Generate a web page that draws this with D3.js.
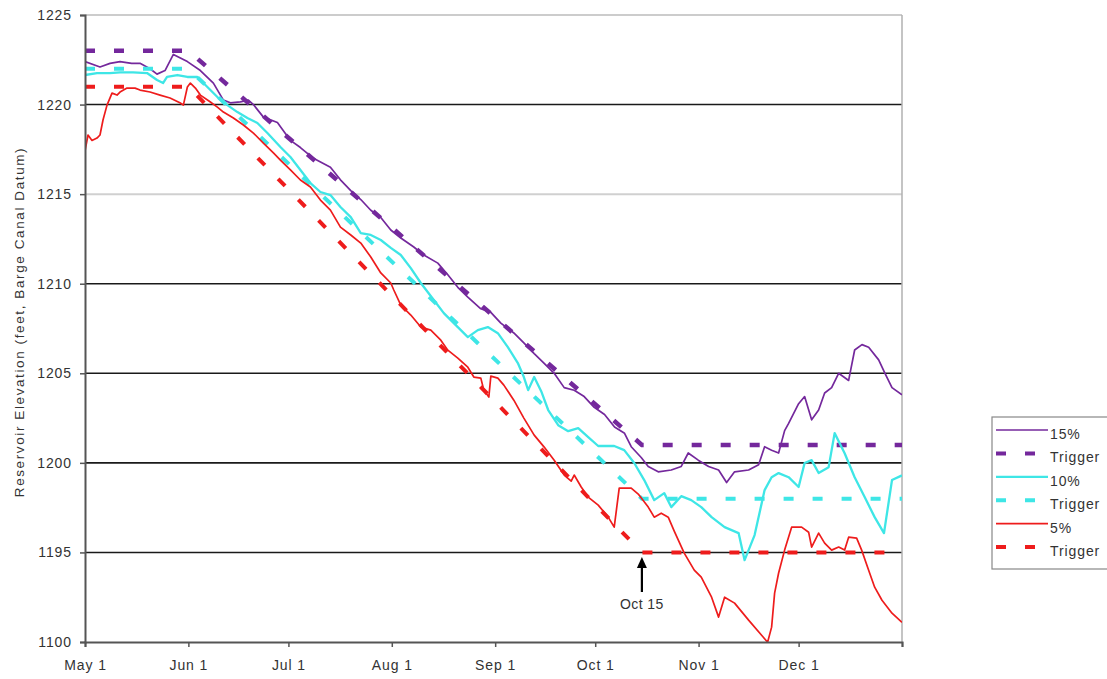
<!DOCTYPE html>
<html><head><meta charset="utf-8">
<script src="https://cdn.jsdelivr.net/npm/d3@7"></script>
<style>
body{margin:0;background:#fff;}
svg text{font-family:"Liberation Sans",Arial,sans-serif;fill:#333;}
</style></head>
<body><svg id="c" width="1107" height="679"></svg>
<script>
// ---- data (day offsets from May 1) ----
const monthDays = [0,31,61,92,123,153,184,214,245];
const monthLabels = ["May 1","Jun 1","Jul 1","Aug 1","Sep 1","Oct 1","Nov 1","Dec 1",""];
const yTicks = [1190,1195,1200,1205,1210,1215,1220,1225];
const yTickLabels = ["1100","1195","1200","1205","1210","1215","1220","1225"];
const blackGrid = [1220,1210,1205,1200,1195];
const grayGrid = [1215,1225];

const p15Days = [0,4.5,7.5,10.5,14,16.5,19.5,21.6,24,26.5,28.6,30.7,34.6,38.5,41.5,43.6,46.6,49,50.5,53.5,57.7,61.6,64.6,68.5,73.6,76.6,79.7,82.7,85.7,88.7,91.7,94.7,98.6,101.6,105.8,108.8,111.8,114.8,118.7,121.7,124.7,128.6,131.6,134.7,137.7,140.7,143.7,146.7,149.7,152.7,155.8,158.8,161.8,163.8,166.8,168.9,171.9,175.8,178.8,180.9,183.9,187,190,192.4,194.8,199,202,203.8,205.9,208,209.8,211,214,215.8,217.9,220,221.8,223.9,226,229,230.8,233,235,238,239.9,242,245];
const p15Vals = [1222.4,1222.1,1222.3,1222.4,1222.3,1222.3,1222.0,1221.7,1221.9,1222.8,1222.6,1222.4,1221.9,1221.2,1220.25,1220.1,1220.15,1220.25,1220.0,1219.3,1219.0,1218.0,1217.6,1217.0,1216.5,1215.8,1215.2,1214.7,1214.1,1213.7,1213.0,1212.55,1212.05,1211.6,1211.15,1210.5,1209.8,1209.25,1208.6,1208.4,1207.8,1207.25,1206.7,1206.1,1205.55,1205.0,1204.2,1204.05,1203.7,1203.1,1202.7,1202.0,1201.65,1200.9,1200.3,1199.8,1199.5,1199.6,1199.8,1200.55,1200.15,1199.8,1199.6,1198.9,1199.5,1199.6,1199.9,1200.9,1200.7,1200.55,1201.8,1202.2,1203.3,1203.7,1202.4,1202.95,1203.9,1204.2,1205.0,1204.6,1206.3,1206.6,1206.45,1205.75,1205.0,1204.2,1203.8];

const p10Days = [0,3.6,7.5,10.5,14.4,18.6,21.6,23.4,24.6,27.7,30.7,33.7,36.7,39.7,42.7,45.7,48.7,51.7,54.7,58.6,61.6,64.6,67.6,70.6,73.6,76.6,79.7,82.7,85.7,88.7,91.7,94.7,97.7,100.7,104.6,107.6,111.8,114.8,117.8,120.8,123.8,126.8,129.8,131.6,132.9,134.7,136.8,138.9,141.9,144.9,147.9,150.9,153.9,158.7,161.7,164.7,167.7,170.7,173.7,175.8,178.8,181.8,184.8,187.9,191.8,196,197.8,200.8,203.8,205.9,208,211,214,215.8,217.9,220,223,224.8,227.8,230.8,233.8,236.8,239.6,242,245];
const p10Vals = [1221.65,1221.76,1221.76,1221.8,1221.8,1221.76,1221.37,1221.2,1221.54,1221.65,1221.54,1221.54,1220.98,1220.42,1219.97,1219.58,1219.25,1218.97,1218.41,1217.63,1217.07,1216.35,1215.62,1215.12,1214.95,1214.28,1213.72,1212.83,1212.72,1212.44,1212.0,1211.6,1210.87,1210.04,1209.09,1208.36,1207.58,1207.02,1207.41,1207.58,1207.24,1206.46,1205.57,1204.79,1204.06,1204.79,1204.0,1202.95,1202.1,1201.77,1201.94,1201.44,1200.94,1200.94,1200.71,1199.99,1199.04,1197.92,1198.31,1197.53,1198.14,1197.92,1197.53,1196.97,1196.41,1196.08,1194.57,1195.97,1198.48,1199.2,1199.43,1199.2,1198.65,1199.99,1200.15,1199.43,1199.76,1201.66,1200.54,1199.2,1198.09,1196.97,1196.08,1199.04,1199.3];

const p5Days = [0,0.9,2.1,3.6,4.5,5.4,6.6,8.1,9.6,10.5,12.6,15,16.5,19.5,22.5,25.5,28.6,29.5,30.7,31.6,33.1,34.6,37.6,39.7,41.5,44.5,47.5,50.5,53.5,56.5,58.6,61.6,64.6,67.6,70.6,73.6,76.6,79.7,82.7,85.7,88.7,91.7,92.6,94.7,97.7,100.7,103.7,106.7,108.8,111.8,114.8,116.6,118.7,119.6,121.1,121.7,123.8,125.6,128.6,131.6,134.7,137.7,140.7,143.7,145.8,146.7,148.8,150.9,153.9,156.9,158.7,160.2,163.8,165.9,168.9,170.7,172.8,174.9,176.7,179.7,182.7,184.8,187.9,190,191.8,194.8,199,202.9,204.7,205.9,206.8,208,209.8,211.9,214.9,217,217.9,220,221.8,223.9,226,227.8,229,231.4,232.9,235,236.8,239,242,245];
const p5Vals = [1217.4,1218.3,1218.0,1218.13,1218.3,1219.14,1219.97,1220.64,1220.53,1220.7,1220.92,1220.92,1220.81,1220.7,1220.53,1220.37,1220.09,1219.97,1220.98,1221.2,1220.92,1220.53,1220.14,1219.86,1219.58,1219.25,1218.86,1218.41,1217.85,1217.3,1216.9,1216.35,1215.79,1215.4,1214.67,1214.11,1213.16,1212.72,1212.27,1211.49,1210.6,1210.04,1209.65,1208.81,1208.25,1207.58,1207.41,1206.85,1206.29,1205.85,1205.34,1204.79,1204.73,1204.06,1203.67,1204.84,1204.73,1204.34,1203.5,1202.5,1201.55,1200.88,1200.15,1199.32,1198.98,1199.32,1198.65,1198.09,1197.64,1196.97,1196.41,1198.59,1198.59,1198.26,1197.53,1196.97,1197.19,1196.97,1196.19,1194.96,1194.01,1193.62,1192.5,1191.39,1192.5,1192.17,1191.22,1190.38,1189.99,1190.83,1192.73,1193.85,1195.13,1196.41,1196.41,1196.13,1195.3,1196.08,1195.52,1195.13,1195.3,1195.13,1195.85,1195.8,1195.13,1194.01,1193.06,1192.33,1191.61,1191.1];

const t15Days = [0,31,167,245], t15Vals = [1223,1223,1201,1201];
const t10Days = [0,31,167,245], t10Vals = [1222,1222,1198,1198];
const t5Days  = [0,31,167,245], t5Vals  = [1221,1221,1195,1195];

const seriesNames = ["15%","Trigger","10%","Trigger","5%","Trigger"];
const annotDay = 167, annotLabel = "Oct 15";

// ---- drawing ----
const svg = d3.select("#c");
const L=85,R=902,T=15,B=642;
const x = d3.scaleLinear().domain([0,245]).range([L,R]);
const y = d3.scaleLinear().domain([1190,1225]).range([B,T]);

const purple="#74289c", cyan="#3ee6e6", red="#ee1c1c";
const styles = [
  {c:purple,w:1.7,dash:null},
  {c:purple,w:4.5,dash:"10,19"},
  {c:cyan,w:2.3,dash:null},
  {c:cyan,w:4,dash:"10,19"},
  {c:red,w:1.7,dash:null},
  {c:red,w:4,dash:"10,19"}
];
const series = [
  [p15Days,p15Vals],[t15Days,t15Vals],[p10Days,p10Vals],[t10Days,t10Vals],[p5Days,p5Vals],[t5Days,t5Vals]
];

svg.append("defs").append("clipPath").attr("id","clip")
  .append("rect").attr("x",L).attr("y",T-3).attr("width",R-L).attr("height",B-T+3);

// gridlines
svg.append("g").selectAll("line").data(grayGrid).join("line")
  .attr("x1",L).attr("x2",R).attr("y1",d=>y(d)).attr("y2",d=>y(d))
  .attr("stroke",d=>d===1225?"#999":"#d0d0d0").attr("stroke-width",d=>d===1225?1.2:2);
svg.append("g").selectAll("line").data(blackGrid).join("line")
  .attr("x1",L).attr("x2",R).attr("y1",d=>y(d)).attr("y2",d=>y(d))
  .attr("stroke","#1a1a1a").attr("stroke-width",1.6);
// right border
svg.append("line").attr("x1",R).attr("x2",R).attr("y1",T).attr("y2",B).attr("stroke","#b0b0b0").attr("stroke-width",1.5);

// series
const line = d3.line().x(d=>x(d[0])).y(d=>y(d[1]));
const gS = svg.append("g").attr("clip-path","url(#clip)");
series.forEach((s,i)=>{
  const pts = s[0].map((d,j)=>[d,s[1][j]]);
  gS.append("path").attr("d",line(pts)).attr("fill","none")
    .attr("stroke",styles[i].c).attr("stroke-width",styles[i].w)
    .attr("stroke-dasharray",styles[i].dash).attr("stroke-linejoin","round");
});

// axes
const xAxis = d3.axisBottom(x).tickValues(monthDays).tickSize(5).tickPadding(13)
  .tickFormat((d,i)=>monthLabels[i]);
const gx = svg.append("g").attr("transform",`translate(0,${B})`).call(xAxis);
gx.select(".domain").attr("stroke","#555").attr("stroke-width",2);
gx.selectAll(".tick line").attr("stroke","#555").attr("stroke-width",1.5);
gx.selectAll("text").attr("font-size",14).attr("letter-spacing","0.9px").attr("fill","#333").style("font-family",'"Liberation Sans",Arial,sans-serif');

const yAxis = d3.axisLeft(y).tickValues(yTicks).tickSize(5).tickPadding(8)
  .tickFormat((d,i)=>yTickLabels[i]);
const gy = svg.append("g").attr("transform",`translate(${L},0)`).call(yAxis);
gy.select(".domain").attr("stroke","#555").attr("stroke-width",2);
gy.selectAll(".tick line").attr("stroke","#555").attr("stroke-width",1.5);
gy.selectAll("text").attr("font-size",14).attr("letter-spacing","0.9px").attr("fill","#333").style("font-family",'"Liberation Sans",Arial,sans-serif');

// y label
svg.append("text").attr("transform","translate(19,322) rotate(-90)")
  .attr("text-anchor","middle").attr("dominant-baseline","central")
  .attr("font-size",13.5).attr("letter-spacing","1.6px")
  .text("Reservoir Elevation (feet, Barge Canal Datum)");

// annotation
const ax = x(annotDay);
svg.append("line").attr("x1",ax).attr("x2",ax).attr("y1",592).attr("y2",563)
  .attr("stroke","#000").attr("stroke-width",2.2);
svg.append("path").attr("d",`M${ax-5},568 L${ax},557 L${ax+5},568 Z`).attr("fill","#000");
svg.append("text").attr("x",ax).attr("y",609).attr("text-anchor","middle")
  .attr("font-size",14).attr("letter-spacing","0.4px").text(annotLabel);

// legend
const lg = svg.append("g");
lg.append("rect").attr("x",992).attr("y",417).attr("width",130).attr("height",152)
  .attr("fill","#fff").attr("stroke","#888").attr("stroke-width",1.2);
seriesNames.forEach((n,i)=>{
  const ly = 430 + i*23.4;
  lg.append("line").attr("x1",996).attr("x2",1048).attr("y1",ly).attr("y2",ly)
    .attr("stroke",styles[i].c).attr("stroke-width",styles[i].dash?Math.min(styles[i].w,4):styles[i].w)
    .attr("stroke-dasharray",styles[i].dash);
  lg.append("text").attr("x",1050).attr("y",ly+9).attr("font-size",14).attr("letter-spacing","0.9px").text(n);
});
</script></body></html>
